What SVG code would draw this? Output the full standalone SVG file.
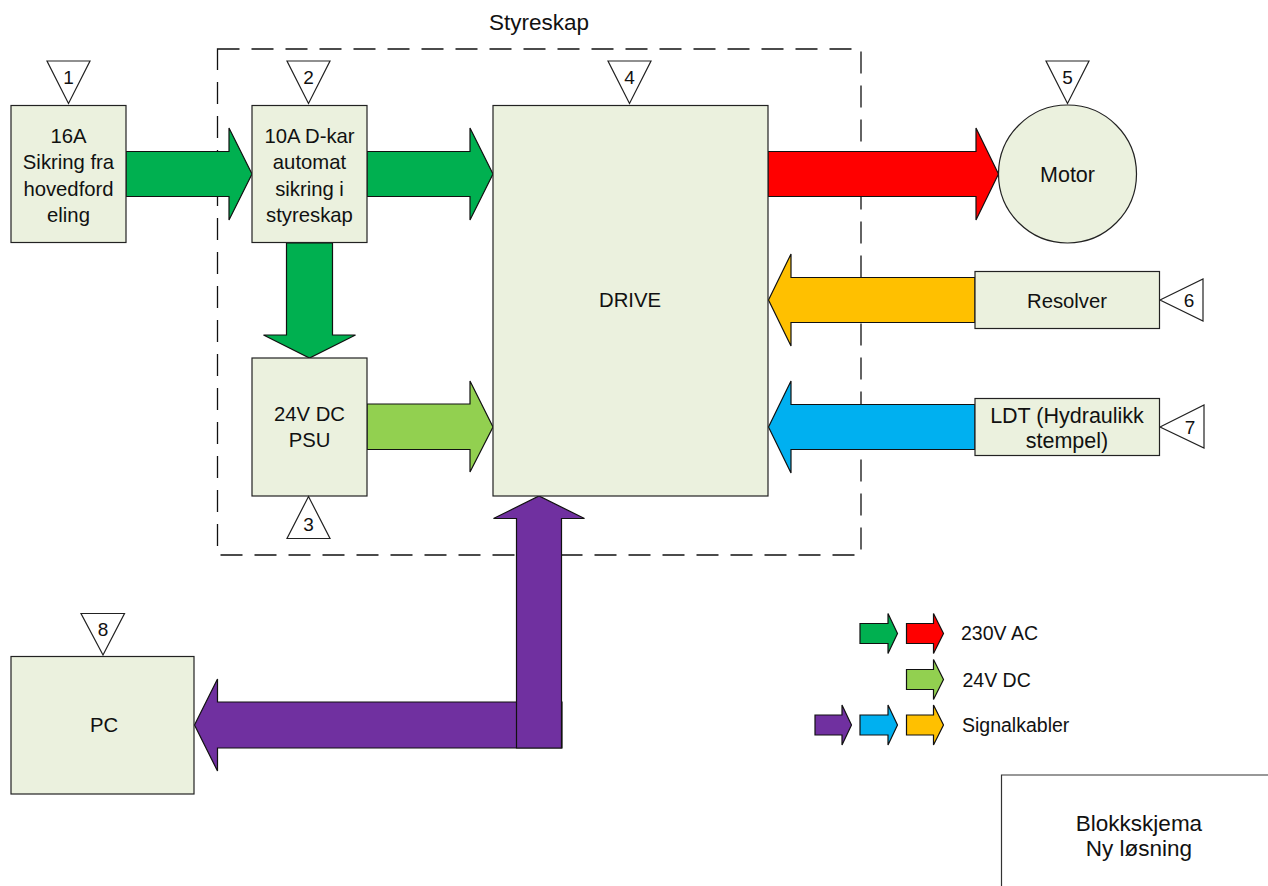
<svg xmlns="http://www.w3.org/2000/svg" width="1268" height="886" viewBox="0 0 1268 886">
<style>
text{font-family:"Liberation Sans",Arial,sans-serif;font-size:20.3px;fill:#111;text-anchor:middle}
.num{font-size:19px}
.leg{text-anchor:start;font-size:19.5px}
.box{fill:#EBF1DE;stroke:#222;stroke-width:1.2}
.tri{fill:#fff;stroke:#222;stroke-width:1.2}
.ar{stroke:#111;stroke-width:1.2;stroke-linejoin:miter}
.g{fill:#00B050}.r{fill:#FF0000}.lg{fill:#92D050}.o{fill:#FFC000}.b{fill:#00B0F0}.p{fill:#7030A0}
.frame{fill:none;stroke:#111;stroke-width:1.3;stroke-dasharray:22 12}
.title{fill:none;stroke:#333;stroke-width:1.2}
</style>

<g id="styreskap">
<rect class="frame" x="217.5" y="49" width="643.5" height="506"/>
<text x="539" y="30" style="font-size:22.5px">Styreskap</text>
</g>

<g id="connectors">
<polygon class="ar g" points="126,151.5 229,151.5 229,128 252,174 229,220 229,196.5 126,196.5"/>
<polygon class="ar g" points="367,151.5 470,151.5 470,128 493,174 470,220 470,196.5 367,196.5"/>
<polygon class="ar r" points="768,151.5 976,151.5 976,128 998.5,174 976,220 976,196.5 768,196.5"/>
<polygon class="ar o" points="975,277.5 791,277.5 791,254 768.5,300 791,346 791,322.5 975,322.5"/>
<polygon class="ar b" points="975,404.5 791,404.5 791,381 768.5,427 791,473 791,449.5 975,449.5"/>
<polygon class="ar g" points="286.5,243 332.5,243 332.5,335 355.5,335 309.5,358 263.5,335 286.5,335"/>
<polygon class="ar lg" points="367,404 470,404 470,381 493,427 470,472 470,449.5 367,449.5"/>
<polygon class="ar p" points="562,702 217.5,702 217.5,679 194.5,725 217.5,771 217.5,748 562,748"/>
<polygon class="ar p" points="516.5,748 516.5,518.5 493.5,518.5 539,496 584.5,518.5 561.5,518.5 561.5,748"/>
</g>

<g id="node1">
<rect class="box" x="11" y="105.5" width="115" height="137"/>
<text x="68.5" y="142.5">16A</text>
<text x="68.5" y="169">Sikring fra</text>
<text x="68.5" y="195.5">hovedford</text>
<text x="68.5" y="222">eling</text>
<polygon class="tri" points="47,61 90,61 68.5,103.5"/>
<text class="num" x="68.5" y="84">1</text>
</g>

<g id="node2">
<rect class="box" x="252" y="105.5" width="115" height="137"/>
<text x="309.5" y="142.5">10A D-kar</text>
<text x="309.5" y="169">automat</text>
<text x="309.5" y="195.5">sikring i</text>
<text x="309.5" y="222">styreskap</text>
<polygon class="tri" points="287,61 330,61 308.5,103.5"/>
<text class="num" x="308.5" y="84">2</text>
</g>

<g id="node3">
<rect class="box" x="252" y="358" width="115" height="138"/>
<text x="309.5" y="420.5">24V DC</text>
<text x="309.5" y="447">PSU</text>
<polygon class="tri" points="308.5,496.5 330,538.5 287,538.5"/>
<text class="num" x="308.5" y="531">3</text>
</g>

<g id="node4">
<rect class="box" x="493" y="105.5" width="275" height="390.5"/>
<text x="630" y="307">DRIVE</text>
<polygon class="tri" points="608,61 651,61 629.5,103.5"/>
<text class="num" x="629.5" y="84">4</text>
</g>

<g id="node5">
<circle class="box" cx="1067.5" cy="174" r="69"/>
<text x="1067.5" y="181.5" style="font-size:21.5px">Motor</text>
<polygon class="tri" points="1046,61 1089,61 1067.5,103.5"/>
<text class="num" x="1067.5" y="84">5</text>
</g>

<g id="node6">
<rect class="box" x="975" y="271.5" width="184.5" height="57"/>
<text x="1067" y="307.5">Resolver</text>
<polygon class="tri" points="1160,300 1203,279 1203,321"/>
<text class="num" x="1189" y="307">6</text>
</g>

<g id="node7">
<rect class="box" x="975" y="398.5" width="184.5" height="57"/>
<text x="1067" y="422.5" style="font-size:21.5px">LDT (Hydraulikk</text>
<text x="1067" y="447.5" style="font-size:21.5px">stempel)</text>
<polygon class="tri" points="1160,427 1204,405 1204,448"/>
<text class="num" x="1190" y="434">7</text>
</g>

<g id="node8">
<rect class="box" x="11" y="656.5" width="183" height="137.5"/>
<text x="104" y="732">PC</text>
<polygon class="tri" points="81,613.5 124.5,613.5 103,655"/>
<text class="num" x="103" y="636">8</text>
</g>

<g id="legend">
<polygon class="ar g" points="860,623.5 888,623.5 888,613.5 897.5,633.5 888,653.5 888,643.5 860,643.5"/>
<polygon class="ar r" points="906.5,623.5 933.5,623.5 933.5,613.5 943.5,633.5 933.5,653.5 933.5,643.5 906.5,643.5"/>
<text class="leg" x="961" y="640">230V AC</text>
<polygon class="ar lg" points="906.5,669.5 933.5,669.5 933.5,659.5 943.5,679.5 933.5,699.5 933.5,689.5 906.5,689.5"/>
<text class="leg" x="962.5" y="687">24V DC</text>
<polygon class="ar p" points="815,715 842,715 842,705 851.5,725 842,745 842,735 815,735"/>
<polygon class="ar b" points="860,715 888,715 888,705 897.5,725 888,745 888,735 860,735"/>
<polygon class="ar o" points="906.5,715 933.5,715 933.5,705 943.5,725 933.5,745 933.5,735 906.5,735"/>
<text class="leg" x="962" y="732">Signalkabler</text>
</g>

<g id="titleblock">
<path class="title" d="M1268,775 H1001.5 V886"/>
<text x="1139" y="831" style="font-size:22.5px">Blokkskjema</text>
<text x="1139" y="856" style="font-size:22.5px">Ny løsning</text>
</g>
</svg>
